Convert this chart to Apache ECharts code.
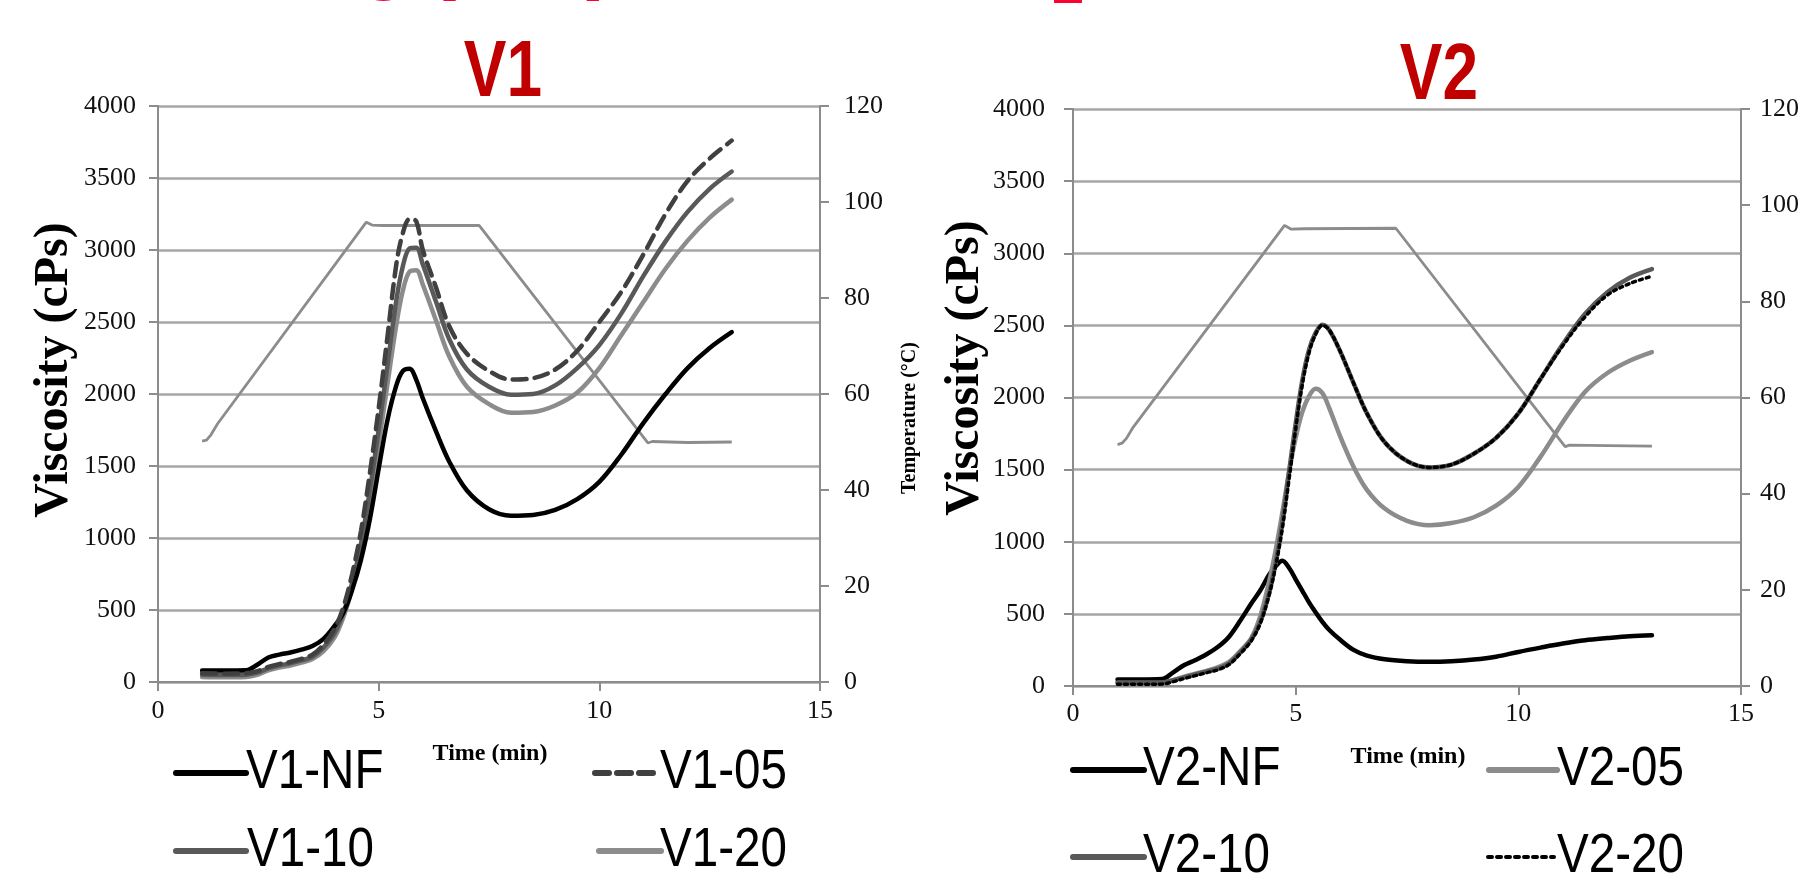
<!DOCTYPE html>
<html>
<head>
<meta charset="utf-8">
<script src="https://cdn.jsdelivr.net/npm/echarts@6/dist/echarts.min.js"></script>
<style>html,body{margin:0;padding:0;background:#fff;overflow:hidden}#c{width:1803px;height:883px}</style>
</head>
<body>
<div id="c"></div>
<script>
// ---------- data ----------
const timeV1 = [1, 1.5, 2, 2.25, 2.5, 2.75, 3, 3.25, 3.5, 3.75, 4, 4.2, 4.4, 4.6, 4.8, 5, 5.2, 5.4, 5.55, 5.7, 5.85, 6, 6.3, 6.6, 7, 7.5, 8, 8.5, 9, 9.5, 10, 10.5, 11, 11.5, 12, 12.5, 13];
const v1NF = [80, 80, 82, 120, 170, 190, 205, 225, 250, 300, 390, 480, 640, 850, 1130, 1480, 1820, 2060, 2160, 2175, 2100, 1970, 1740, 1530, 1330, 1200, 1155, 1160, 1195, 1270, 1390, 1580, 1800, 2000, 2180, 2320, 2430];
const v105 = [60, 58, 60, 75, 105, 125, 140, 160, 190, 260, 370, 520, 750, 1050, 1450, 1900, 2400, 2900, 3120, 3215, 3200, 3000, 2740, 2470, 2280, 2160, 2100, 2110, 2170, 2300, 2500, 2710, 2970, 3250, 3480, 3635, 3760];
const v110 = [50, 48, 50, 65, 95, 115, 130, 150, 175, 240, 340, 480, 690, 960, 1330, 1750, 2200, 2650, 2890, 3010, 3015, 2900, 2640, 2380, 2170, 2050, 1995, 2000, 2060, 2180, 2340, 2560, 2820, 3060, 3265, 3425, 3545];
const v120 = [35, 33, 35, 50, 80, 100, 115, 135, 160, 215, 310, 450, 650, 910, 1250, 1650, 2070, 2480, 2720, 2850, 2860, 2760, 2510, 2260, 2050, 1930, 1870, 1875, 1920, 2010, 2180, 2410, 2640, 2870, 3065, 3225, 3350];
const tempTimeV1 = [1, 1.1, 1.2, 1.35, 4.72, 4.85, 5.1, 7.28, 11.1, 11.2, 12, 13];
const tempV1 = [50.2, 50.4, 51.5, 53.8, 95.8, 95.2, 95.1, 95.1, 49.8, 50.1, 49.9, 50];

const timeV2 = [1, 1.5, 2, 2.25, 2.5, 2.75, 3, 3.25, 3.5, 3.75, 4, 4.2, 4.4, 4.55, 4.7, 4.85, 5, 5.15, 5.3, 5.45, 5.6, 5.75, 6, 6.3, 6.6, 7, 7.5, 8, 8.5, 9, 9.5, 10, 10.5, 11, 11.5, 12, 12.5, 13];
const v2NF = [45, 45, 48, 95, 145, 180, 220, 270, 340, 450, 570, 660, 770, 830, 868, 820, 740, 660, 580, 510, 445, 390, 320, 250, 210, 185, 172, 168, 172, 183, 203, 236, 266, 294, 317, 332, 345, 352];
const v205 = [20, 20, 22, 40, 65, 85, 105, 130, 165, 240, 330, 480, 720, 940, 1200, 1480, 1720, 1900, 2010, 2060, 2030, 1930, 1730, 1520, 1360, 1230, 1145, 1115, 1130, 1170, 1250, 1380, 1590, 1830, 2040, 2170, 2255, 2315];
const v210 = [25, 25, 25, 40, 60, 80, 100, 120, 155, 230, 320, 440, 640, 850, 1130, 1480, 1820, 2120, 2330, 2450, 2505, 2470, 2320, 2100, 1890, 1690, 1560, 1515, 1535, 1610, 1720, 1890, 2130, 2370, 2580, 2730, 2830, 2890];
const v220 = [12, 12, 13, 30, 52, 72, 92, 112, 148, 222, 312, 430, 625, 830, 1090, 1430, 1780, 2090, 2310, 2440, 2500, 2470, 2320, 2100, 1890, 1690, 1560, 1515, 1535, 1610, 1720, 1890, 2130, 2360, 2560, 2710, 2790, 2840];
const tempTimeV2 = [1, 1.1, 1.2, 1.35, 4.75, 4.9, 5.2, 7.25, 11.05, 11.15, 12, 13];
const tempV2 = [50.2, 50.5, 51.5, 53.8, 95.8, 95.0, 95.1, 95.2, 49.8, 50.1, 50, 49.9];

const panelTitles = ['V1', 'V2'];
const legendNames = [['V1-NF', 'V1-05', 'V1-10', 'V1-20'], ['V2-NF', 'V2-05', 'V2-10', 'V2-20']];
const topTitle = 'Pasting properties SiO';
const topTitleSub = '2';
const xAxisName = 'Time (min)';
const yAxisName = 'Viscosity (cPs)';
const y2AxisName = 'Temperature (°C)';

// ---------- helpers ----------
const zip = (xs, ys) => xs.map((x, i) => [x, ys[i]]);
const serif = "'Liberation Serif', 'Times New Roman', serif";
const sans = "'Liberation Sans', Arial, sans-serif";
const axisGray = '#8c8c8c';
const plain = v => String(v);

function xAx(gi, margin) {
  return {
    gridIndex: gi, type: 'value', min: 0, max: 15, interval: 5,
    axisLine: { show: true, onZero: false, lineStyle: { color: axisGray, width: 2 } },
    axisTick: { show: true, inside: false, length: 9, lineStyle: { color: axisGray, width: 2 } },
    splitLine: { show: false },
    axisLabel: { color: '#111', fontFamily: serif, fontSize: 26, margin: margin, formatter: plain }
  };
}
function yAx(gi, margin) {
  return {
    gridIndex: gi, type: 'value', min: 0, max: 4000, interval: 500, position: 'left',
    axisLine: { show: true, onZero: false, lineStyle: { color: axisGray, width: 2 } },
    axisTick: { show: true, inside: false, length: 9, lineStyle: { color: axisGray, width: 2 } },
    splitLine: { show: true, lineStyle: { color: '#a6a6a6', width: 2.5 } },
    axisLabel: { color: '#111', fontFamily: serif, fontSize: 26, margin: margin, formatter: plain }
  };
}
function y2Ax(gi, margin) {
  return {
    gridIndex: gi, type: 'value', min: 0, max: 120, interval: 20, position: 'right',
    axisLine: { show: true, onZero: false, lineStyle: { color: axisGray, width: 2 } },
    axisTick: { show: true, inside: false, length: 9, lineStyle: { color: axisGray, width: 2 } },
    splitLine: { show: false },
    axisLabel: { color: '#111', fontFamily: serif, fontSize: 26, margin: margin, formatter: plain }
  };
}
function visc(name, xi, yi, xs, ys, color, width, type, z) {
  return {
    type: 'line', name: name, xAxisIndex: xi, yAxisIndex: yi, data: zip(xs, ys),
    symbol: 'none', smooth: 0.35, z: z,
    itemStyle: { color: color },
    lineStyle: { color: color, width: width, type: type || 'solid', cap: 'round' }
  };
}
function temp(name, xi, yi, xs, ys) {
  return {
    type: 'line', name: name, xAxisIndex: xi, yAxisIndex: yi, data: zip(xs, ys),
    symbol: 'none', smooth: false, z: 1,
    itemStyle: { color: axisGray },
    lineStyle: { color: axisGray, width: 2.8 }
  };
}
// legend: icons drawn by the legend component, labels as condensed text
function leg(name, left, cy, w, ls) {
  return {
    data: [name], left: left, top: cy - 10, padding: 0,
    itemWidth: w, itemHeight: 20, selectedMode: false,
    formatter: () => '',
    itemStyle: { opacity: 0, borderWidth: 0 },
    lineStyle: ls || { width: 6 },
    textStyle: { fontSize: 1 }
  };
}
function legText(name, x, cy) {
  return { type: 'text', x: x, y: cy, scaleX: 0.85, z: 10,
    style: { text: name, fontFamily: sans, fontSize: 56, fill: '#000', align: 'left', verticalAlign: 'middle' } };
}

const chart = echarts.init(document.getElementById('c'), null, { renderer: 'canvas' });
chart.setOption({
  animation: false,
  backgroundColor: '#fff',
  grid: [
    { left: 158, top: 106, width: 662, height: 576 },
    { left: 1073, top: 109, width: 668, height: 577 }
  ],
  xAxis: [xAx(0, 16), xAx(1, 15)],
  yAxis: [yAx(0, 22), y2Ax(0, 24), yAx(1, 28), y2Ax(1, 19)],
  legend: [
    leg(legendNames[0][0], 173, 773, 70), leg(legendNames[0][1], 592, 773, 64),
    leg(legendNames[0][2], 173, 851, 70), leg(legendNames[0][3], 596, 851, 62),
    leg(legendNames[1][0], 1070, 770, 71), leg(legendNames[1][1], 1486, 770, 68),
    leg(legendNames[1][2], 1070, 857, 71), leg(legendNames[1][3], 1486, 857, 66, { width: 4, type: [4, 5] })
  ],
  series: [
    temp('V1 Temperature', 0, 1, tempTimeV1, tempV1),
    visc('V1-20', 0, 0, timeV1, v120, '#8c8c8c', 4.5, 'solid', 2),
    visc('V1-10', 0, 0, timeV1, v110, '#595959', 4.5, 'solid', 3),
    visc('V1-NF', 0, 0, timeV1, v1NF, '#000000', 4.5, 'solid', 4),
    visc('V1-05', 0, 0, timeV1, v105, '#404040', 4.5, [14, 8], 5),
    temp('V2 Temperature', 1, 3, tempTimeV2, tempV2),
    visc('V2-NF', 1, 2, timeV2, v2NF, '#000000', 4.5, 'solid', 2),
    visc('V2-05', 1, 2, timeV2, v205, '#8c8c8c', 4.5, 'solid', 3),
    visc('V2-10', 1, 2, timeV2, v210, '#595959', 4.5, 'solid', 4),
    visc('V2-20', 1, 2, timeV2, v220, '#000000', 3.5, [3, 4], 5)
  ],
  graphic: [
    { type: 'text', x: 91, y: -43, style: { text: topTitle, fontFamily: sans, fontWeight: 'bold', fontSize: 89, fill: '#ff0033', align: 'left', verticalAlign: 'middle' } },
    { type: 'text', x: 1052, y: -13, style: { text: topTitleSub, fontFamily: sans, fontWeight: 'bold', fontSize: 58, fill: '#ff0033', align: 'left', verticalAlign: 'middle' } },
    { type: 'text', x: 503, y: 74, scaleX: 0.8, style: { text: panelTitles[0], fontFamily: sans, fontWeight: 'bold', fontSize: 80, fill: '#c00000', align: 'center', verticalAlign: 'middle' } },
    { type: 'text', x: 1439, y: 77, scaleX: 0.8, style: { text: panelTitles[1], fontFamily: sans, fontWeight: 'bold', fontSize: 80, fill: '#c00000', align: 'center', verticalAlign: 'middle' } },
    { type: 'text', x: 55, y: 370, rotation: Math.PI / 2, style: { text: yAxisName, fontFamily: serif, fontWeight: 'bold', fontSize: 48, fill: '#000', align: 'center', verticalAlign: 'middle' } },
    { type: 'text', x: 966, y: 368, rotation: Math.PI / 2, style: { text: yAxisName, fontFamily: serif, fontWeight: 'bold', fontSize: 48, fill: '#000', align: 'center', verticalAlign: 'middle' } },
    { type: 'text', x: 910, y: 418, rotation: Math.PI / 2, style: { text: y2AxisName, fontFamily: serif, fontWeight: 'bold', fontSize: 20, fill: '#000', align: 'center', verticalAlign: 'middle' } },
    { type: 'text', x: 490, y: 754, style: { text: xAxisName, fontFamily: serif, fontWeight: 'bold', fontSize: 24, fill: '#000', align: 'center', verticalAlign: 'middle' } },
    { type: 'text', x: 1408, y: 757, style: { text: xAxisName, fontFamily: serif, fontWeight: 'bold', fontSize: 24, fill: '#000', align: 'center', verticalAlign: 'middle' } },
    legText(legendNames[0][0], 246, 773), legText(legendNames[0][1], 660, 773),
    legText(legendNames[0][2], 247, 851), legText(legendNames[0][3], 660, 851),
    legText(legendNames[1][0], 1143, 770), legText(legendNames[1][1], 1557, 770),
    legText(legendNames[1][2], 1143, 857), legText(legendNames[1][3], 1557, 857)
  ]
});
</script>
</body>
</html>
